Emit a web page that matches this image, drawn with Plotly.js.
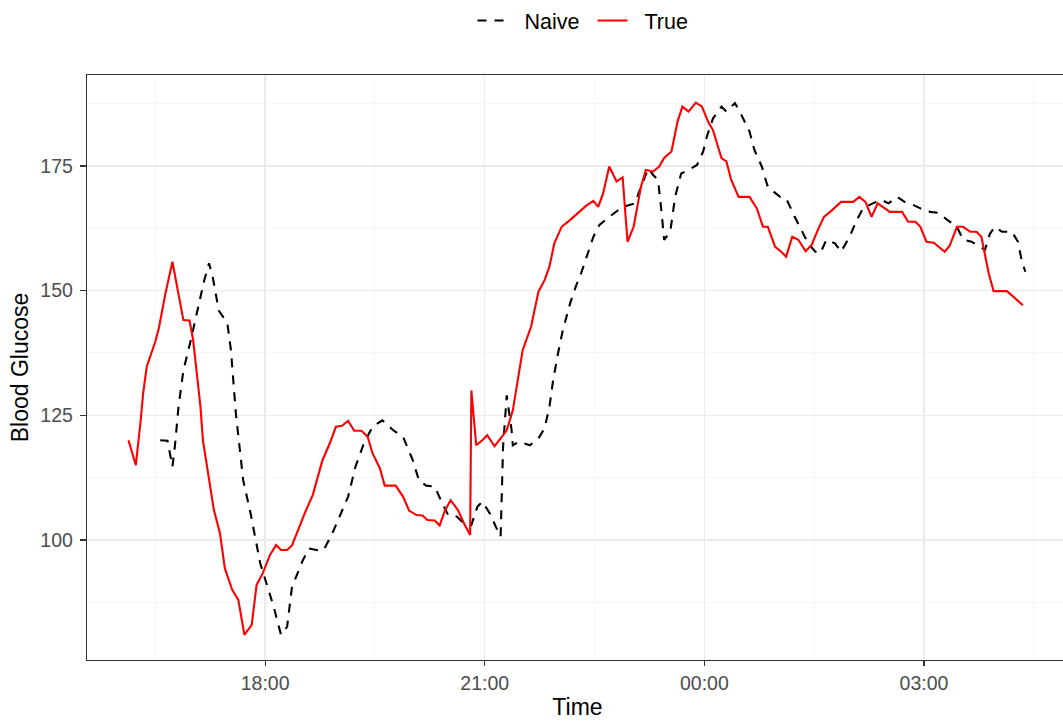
<!DOCTYPE html>
<html>
<head>
<meta charset="utf-8">
<script src="https://cdn.plot.ly/plotly-3.0.1.min.js"></script>
<style>
  html, body { margin: 0; padding: 0; overflow: hidden; background: #fff; }
  #chart { width: 1070px; height: 721px; }
</style>
</head>
<body>
<div id="chart"></div>
<script>
// ---- Data ----
const trueTimes = ["16:08","16:14","16:18","16:20","16:23","16:26","16:30","16:33","16:38","16:44",
  "16:48","16:53","16:58","17:01","17:04","17:07","17:09","17:13","17:18","17:23",
  "17:27","17:33","17:38","17:43","17:49","17:53","17:58","18:04","18:09","18:13",
  "18:18","18:22","18:28","18:33","18:39","18:43","18:47","18:53","18:58","19:03",
  "19:08","19:13","19:19","19:24","19:28","19:34","19:38","19:47","19:53","19:58",
  "20:04","20:09","20:13","20:19","20:23","20:27","20:32","20:38","20:43","20:48",
  "20:49","20:53","20:58","21:02","21:08","21:13","21:18","21:23","21:27","21:31",
  "21:38","21:44","21:49","21:53","21:57","22:03","22:10","22:16","22:23","22:29",
  "22:33","22:37","22:42","22:48","22:53","22:57","23:02","23:08","23:12","23:18",
  "23:23","23:27","23:33","23:38","23:42","23:47","23:53","23:58","00:03","00:07",
  "00:14","00:18","00:22","00:28","00:37","00:43","00:48","00:52","00:58","01:03",
  "01:07","01:12","01:17","01:23","01:28","01:33","01:38","01:44","01:52","02:02",
  "02:07","02:12","02:17","02:22","02:32","02:42","02:47","02:53","02:57","03:02",
  "03:08","03:17","03:21","03:27","03:32","03:38","03:43","03:47","03:53","03:57",
  "04:08","04:21"];
const trueValues = [120,115,124,129.4,134.8,137.1,139.8,142.6,149.1,155.8,
  150.5,144.1,144,140.1,133.4,126.7,120,113.4,106,101.3,
  94.3,90,88,81,83,91,93.3,97,99,98,
  98,98.9,102.7,105.7,109,112.4,116,119.4,122.7,122.9,
  123.9,121.9,121.9,120.7,117.4,114.4,110.9,110.9,108.7,105.9,
  105,104.9,104,103.9,102.9,105.7,108,106,103.3,101,
  130,119,120,121,118.8,120.4,122,126,132,138,
  142.8,149.8,152.1,154.8,159.5,162.8,164.2,165.5,167,168,
  166.8,169.5,174.9,171.9,172.7,159.8,162.8,170.8,174.2,173.9,
  174.9,176.6,177.9,183.9,186.9,185.9,187.7,186.9,183.9,182.2,
  176.6,175.9,172.2,168.8,168.8,166.5,162.8,162.8,158.8,157.8,
  156.8,160.8,160.2,157.9,159.2,162.2,164.8,166,167.8,167.8,
  168.8,167.8,164.8,167.5,165.8,165.8,163.8,163.8,162.8,159.8,
  159.6,157.8,159,162.8,162.8,161.8,161.8,160.8,153.5,149.9,
  149.9,147.1];

const naiveTimes = ["16:34","16:40","16:44","16:46","16:49","16:53","16:59","17:04","17:10","17:14",
  "17:17","17:22","17:29","17:32","17:34","17:36","17:39","17:42","17:48","17:52",
  "17:56","18:02","18:07","18:13","18:18","18:22","18:31","18:36","18:42","18:48",
  "18:55","19:01","19:08","19:14","19:21","19:28","19:36","19:45","19:53","20:01",
  "20:06","20:12","20:19","20:24","20:30","20:37","20:43","20:49","20:54","20:58",
  "21:04","21:09","21:13","21:15","21:18","21:22","21:23","21:28","21:37","21:44",
  "21:49","21:53","21:56","22:00","22:04","22:10","22:15","22:19","22:23","22:29",
  "22:34","22:42","22:53","23:03","23:08","23:14","23:18","23:22","23:25","23:27",
  "23:32","23:36","23:41","23:47","23:54","23:59","00:02","00:07","00:14","00:18",
  "00:25","00:29","00:37","00:41","00:47","00:52","01:02","01:07","01:14","01:20",
  "01:25","01:31","01:35","01:40","01:47","01:52","01:59","02:05","02:10","02:18",
  "02:25","02:31","02:38","02:44","02:51","02:57","03:05","03:12","03:19","03:27",
  "03:32","03:39","03:46","03:50","03:54","03:58","04:04","04:12","04:17","04:20",
  "04:23"];
const naiveValues = [120,119.9,114.7,118.7,126.7,134,140,145.5,152,155.5,
  152.8,146,143.5,138,132,125.4,118.7,112,105.4,100,
  95.3,90.6,86.6,81,82.6,90.6,96,98.3,98,98,
  101.3,104.7,108.7,114.7,119.4,122.7,124,122,120.7,116,
  112,110.9,110.7,108,105,104.7,103.3,103,106.7,107.7,
  105.4,102.7,100.7,118.7,129,122,119,119.7,119,120.4,
  122.4,126.7,132,137.4,142.1,147.5,151.1,153.5,156.5,160.8,
  163.2,164.8,166.8,167.5,170.8,174.5,173.2,172.2,165.5,160.2,
  161.8,168.8,173.5,174.2,175.2,177.9,180.9,184.5,186.9,185.9,
  187.6,185.9,181.9,178.2,174.9,170.8,168.8,168.5,164.8,161.8,
  159.5,157.8,157.5,160.2,159.5,157.8,160.8,164.2,166.5,167.5,
  168.2,167.5,168.8,167.8,167.2,166.5,165.8,165.6,164.2,162.8,
  160.2,159.8,158.8,158.2,161.4,162.8,161.8,161.8,159.8,156.1,
  153.8];

const yTickVals = [100,125,150,175];
const xTickLabels = ["18:00","21:00","00:00","03:00"];
const seriesNames = ["Naive","True"];

// afternoon/evening times on day 1, after-midnight times on day 2
function toDate(hm) {
  const h = parseInt(hm.slice(0,2),10);
  return (h < 12 ? "2021-01-02 " : "2021-01-01 ") + hm;
}

const traces = [
  {
    x: naiveTimes.map(toDate), y: naiveValues, name: "\u00a0\u00a0" + seriesNames[0], type: "scatter", mode: "lines",
    line: {color: "#000000", width: 2.1, dash: "9px,8px"}
  },
  {
    x: trueTimes.map(toDate), y: trueValues, name: "\u00a0\u00a0" + seriesNames[1], type: "scatter", mode: "lines",
    line: {color: "#ff0000", width: 2.1}
  }
];

const layout = {
  width: 1070, height: 721,
  margin: {l: 87, r: 2, t: 75, b: 61},
  paper_bgcolor: "#ffffff", plot_bgcolor: "#ffffff",
  font: {family: "Liberation Sans, Arial, sans-serif", color: "#4d4d4d", size: 19.5},
  showlegend: true,
  legend: {
    orientation: "h", x: 0.393, xanchor: "left", y: 1, yanchor: "top", yref: "container",
    font: {size: 21.5, color: "#000000"}, bgcolor: "rgba(0,0,0,0)",
    entrywidth: 75, entrywidthmode: "pixels"
  },
  xaxis: {
    type: "date",
    range: ["2021-01-01 15:34", "2021-01-02 04:58"],
    tickmode: "array",
    tickvals: xTickLabels.map(toDate),
    ticktext: xTickLabels,
    ticks: "outside", ticklen: 5, tickwidth: 1.1, tickcolor: "#333333",
    tickfont: {size: 19.5, color: "#4d4d4d"},
    showgrid: true, gridcolor: "#ebebeb", gridwidth: 1.3,
    minor: {
      tickmode: "array",
      tickvals: ["2021-01-01 16:30","2021-01-01 19:30","2021-01-01 22:30","2021-01-02 01:30","2021-01-02 04:30"],
      showgrid: true, gridcolor: "#f2f2f2", gridwidth: 0.7, ticks: ""
    },
    showline: true, mirror: true, linecolor: "#333333", linewidth: 1.2,
    zeroline: false,
    title: {text: "Time", font: {size: 23, color: "#000000"}, standoff: 6}
  },
  yaxis: {
    range: [75.94, 193.24],
    tickmode: "array", tickvals: yTickVals, ticktext: yTickVals.map(String),
    ticks: "outside", ticklen: 6, tickwidth: 1.1, tickcolor: "#333333",
    ticklabelstandoff: 3,
    tickfont: {size: 19.5, color: "#4d4d4d"},
    showgrid: true, gridcolor: "#ebebeb", gridwidth: 1.3,
    minor: {
      tickmode: "array", tickvals: [87.5,112.5,137.5,162.5,187.5],
      showgrid: true, gridcolor: "#f2f2f2", gridwidth: 0.7, ticks: ""
    },
    showline: true, mirror: true, linecolor: "#333333", linewidth: 1.2,
    zeroline: false,
    title: {text: "Blood Glucose", font: {size: 23, color: "#000000"}, standoff: 5}
  }
};

Plotly.newPlot("chart", traces, layout, {displayModeBar: false, staticPlot: true});
</script>
</body>
</html>
